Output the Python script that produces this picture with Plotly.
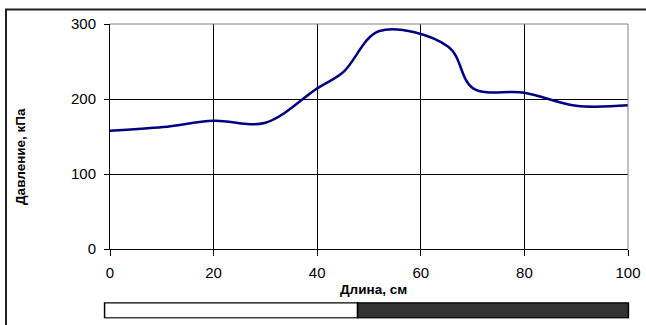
import plotly.graph_objects as go

# ---- data ----
length_cm = [0, 10.3, 20, 30, 40, 45, 52, 65.3, 70.1, 80, 90, 100]
pressure_kpa = [157.7, 162.7, 171, 168.4, 214.2, 235.6, 290.7, 269.7, 214.2, 208.4, 191, 191.6]

x_ticks = [0, 20, 40, 60, 80, 100]
y_ticks = [0, 100, 200, 300]

segment_lengths = [48.3, 51.7]
segment_colors = ["#ffffff", "#333333"]

x_title = "Длина, см"
y_title = "Давление, кПа"

FONT = "Liberation Sans, Arial, sans-serif"

fig = go.Figure()

fig.add_trace(go.Scatter(
    x=length_cm, y=pressure_kpa, mode="lines",
    line=dict(color="#000080", width=2.5, shape="spline", smoothing=1.0),
    xaxis="x", yaxis="y", showlegend=False, hoverinfo="skip",
))

base = 0
for seg_len, seg_col in zip(segment_lengths, segment_colors):
    fig.add_trace(go.Bar(
        x=[seg_len], y=[0], base=[base], orientation="h", width=1,
        marker=dict(color=seg_col, line=dict(color="#000000", width=1.5)),
        xaxis="x2", yaxis="y2", showlegend=False, hoverinfo="skip",
    ))
    base += seg_len

fig.update_layout(
    width=646, height=325,
    margin=dict(l=103, r=16, t=24, b=5, autoexpand=False),
    showlegend=False,
    paper_bgcolor="white", plot_bgcolor="white",
    font=dict(family=FONT, size=15, color="black"),
    barmode="overlay",
    xaxis=dict(
        domain=[7 / 527, 525 / 527], range=[0, 100],
        tickvals=x_ticks, ticktext=[str(v) for v in x_ticks],
        showgrid=True, gridcolor="black", gridwidth=1,
        showline=True, linecolor="black", linewidth=1,
        ticks="outside", ticklen=6, tickcolor="black", ticklabelstandoff=4,
        zeroline=False, anchor="y", fixedrange=True, automargin=False,
    ),
    yaxis=dict(
        domain=[71 / 296, 1], range=[0, 300],
        tickvals=y_ticks, ticktext=[str(v) for v in y_ticks],
        showgrid=True, gridcolor="black", gridwidth=1,
        showline=True, linecolor="black", linewidth=1,
        ticks="outside", ticklen=5, tickcolor="black", ticklabelstandoff=5,
        zeroline=False, anchor="x", fixedrange=True, automargin=False,
    ),
    xaxis2=dict(
        domain=[0, 1], range=[-0.3, 100.3], visible=False,
        anchor="y2", fixedrange=True, automargin=False,
    ),
    yaxis2=dict(
        domain=[1.5 / 296, 17.8 / 296], range=[-0.53, 0.53], visible=False,
        anchor="x2", fixedrange=True, automargin=False,
    ),
    shapes=[
        dict(type="line", xref="x domain", yref="y domain", x0=0, x1=1, y0=1, y1=1,
             line=dict(color="#808080", width=1), layer="above"),
        dict(type="line", xref="x domain", yref="y domain", x0=1, x1=1, y0=0, y1=1,
             line=dict(color="#808080", width=1), layer="above"),
        dict(type="rect", xref="paper", yref="paper", x0=-97 / 527, x1=2, y0=-1, y1=310.5 / 296,
             line=dict(color="#202020", width=2), fillcolor="rgba(0,0,0,0)", layer="above"),
    ],
    annotations=[
        dict(text=f"<b>{x_title}</b>", xref="paper", yref="paper", x=270 / 527, y=31 / 296,
             showarrow=False, font=dict(size=13.5, family=FONT), xanchor="center", yanchor="middle"),
        dict(text=f"<b>{y_title}</b>", xref="paper", yref="paper", x=-83 / 527, y=163 / 296,
             showarrow=False, font=dict(size=13.5, family=FONT), textangle=-90,
             xanchor="center", yanchor="middle"),
    ],
)

fig.write_html(
    "out.html",
    config={"displayModeBar": False, "staticPlot": True},
    post_script="document.body.style.margin='0';document.body.style.overflow='hidden';",
)
